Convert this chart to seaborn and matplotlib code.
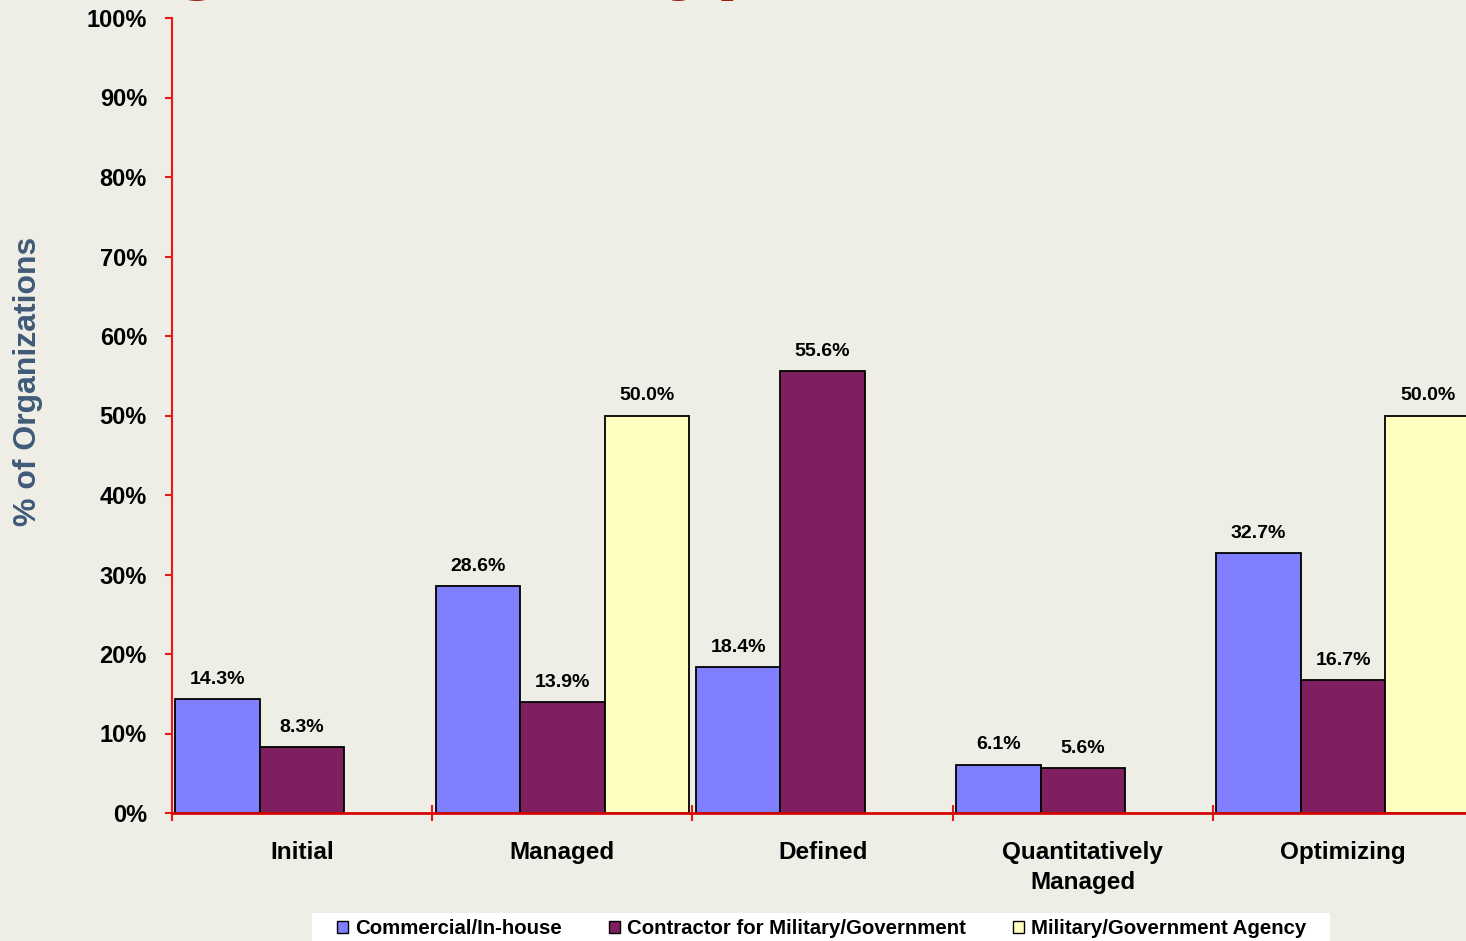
import numpy as np
import pandas as pd
import matplotlib
matplotlib.use("Agg")
import matplotlib.pyplot as plt
from matplotlib.patches import Rectangle
import seaborn as sns

# Maturity levels and share of organizations per organization type (%)
levels = ["Initial", "Managed", "Defined", "Quantitatively\nManaged", "Optimizing"]
org_types = ["Commercial/In-house", "Contractor for Military/Government", "Military/Government Agency"]
commercial = [14.3, 28.6, 18.4, 6.1, 32.7]
contractor = [8.3, 13.9, 55.6, 5.6, 16.7]
military = [np.nan, 50.0, np.nan, np.nan, 50.0]
y_ticks = [0, 10, 20, 30, 40, 50, 60, 70, 80, 90, 100]

colors = ["#8080FF", "#7F1F5F", "#FFFFC0"]
bg = "#EEEDE6"
axis_red = "#E81818"

df = pd.DataFrame({
    "level": levels * 3,
    "org": [org_types[0]] * 5 + [org_types[1]] * 5 + [org_types[2]] * 5,
    "pct": commercial + contractor + military,
}).dropna()

sns.set_style("white")
plt.rcParams["font.family"] = ["Liberation Sans", "DejaVu Sans"]
plt.rcParams["font.weight"] = "bold"
plt.rcParams["text.color"] = "black"
plt.rcParams["xtick.color"] = "black"
plt.rcParams["ytick.color"] = "black"
plt.rcParams["axes.labelcolor"] = "black"

fig = plt.figure(figsize=(14.66, 9.41), dpi=100, facecolor=bg)
ax = fig.add_axes([172 / 1466, 1 - 813 / 941, 1301.25 / 1466, 795 / 941])
ax.set_facecolor(bg)

sns.barplot(data=df, x="level", y="pct", hue="org", order=levels, hue_order=org_types,
            palette=colors, width=0.975, gap=0, edgecolor="black", linewidth=1.3,
            errorbar=None, saturation=1, ax=ax)

for cont in ax.containers:
    ax.bar_label(cont, fmt="%.1f%%", padding=8, fontsize=14, fontweight="bold", color="black")

ax.set_xlim(-0.5, 4.5)
ax.set_ylim(0, 100)
ax.set_yticks(y_ticks)
ax.set_yticklabels([f"{t}%" for t in y_ticks], fontsize=17, fontweight="bold", color="black")
ax.tick_params(axis="y", direction="out", length=5, width=1.5, color=axis_red, pad=13, left=True)
ax.set_xticks(range(len(levels)))
ax.set_xticklabels(levels, fontsize=17.5, fontweight="bold", linespacing=1.4, color="black")
ax.tick_params(axis="x", which="major", length=0, pad=20)
ax.set_xticks(np.arange(-0.5, len(levels), 1), minor=True)
ax.tick_params(axis="x", which="minor", direction="inout", length=12, width=1.5, color=axis_red, bottom=True)

for side in ["top", "right"]:
    ax.spines[side].set_visible(False)
ax.spines["left"].set_color(axis_red)
ax.spines["left"].set_linewidth(1.5)
ax.spines["bottom"].set_color("#D80808")
ax.spines["bottom"].set_linewidth(2)

ax.set_xlabel("")
ax.set_ylabel("% of Organizations", fontsize=23, fontweight="bold", color="#3F5A78")
ax.yaxis.set_label_coords(-0.0991, 0.5434)

# Legend strip along the bottom edge
fig.patches.append(Rectangle((312 / 1466, 0), 1018 / 1466, 28 / 941, transform=fig.transFigure,
                             facecolor="white", edgecolor="none", zorder=0))
handles, labels = ax.get_legend_handles_labels()
if ax.get_legend() is not None:
    ax.get_legend().remove()
leg = fig.legend(handles, labels, loc="center left", bbox_to_anchor=(337 / 1466, 1 - 929 / 941),
                 ncol=3, frameon=False, borderpad=0, borderaxespad=0, handlelength=0.55,
                 handleheight=0.55, handletextpad=0.34, columnspacing=2.3,
                 prop={"weight": "bold", "size": 14.7})
for h in leg.legend_handles:
    h.set_edgecolor("black")
    h.set_linewidth(1.0)

# Chart title across the top
fig.text(71 / 1466, 1 + 17 / 941, "Organization Type", fontsize=62, fontweight="bold",
         color="#A0200C", ha="left", va="baseline")

fig.savefig("out.png", dpi=100, facecolor=bg)
